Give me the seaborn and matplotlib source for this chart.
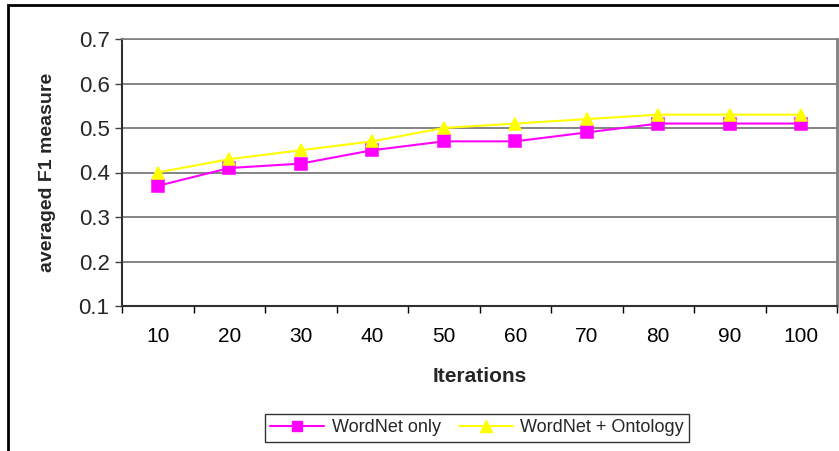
import matplotlib
matplotlib.use("Agg")
import matplotlib.pyplot as plt
import seaborn as sns
import pandas as pd
import numpy as np
from matplotlib.lines import Line2D
from matplotlib.patches import Rectangle

iterations = ["10", "20", "30", "40", "50", "60", "70", "80", "90", "100"]
wordnet_only = [0.37, 0.41, 0.42, 0.45, 0.47, 0.47, 0.49, 0.51, 0.51, 0.51]
wordnet_ontology = [0.40, 0.43, 0.45, 0.47, 0.50, 0.51, 0.52, 0.53, 0.53, 0.53]
series_names = ["WordNet only", "WordNet + Ontology"]
y_ticks = [0.1, 0.2, 0.3, 0.4, 0.5, 0.6, 0.7]

df = pd.DataFrame({
    "Iterations": iterations * 2,
    "F1": wordnet_only + wordnet_ontology,
    "Series": [series_names[0]] * len(iterations) + [series_names[1]] * len(iterations),
})

sns.set_style("white")
plt.rcParams['font.family'] = ['Liberation Sans', 'DejaVu Sans']

fig = plt.figure(figsize=(8.39, 4.51), dpi=100)
ax = fig.add_axes([122/839, 1-306/451, (837-122)/839, (306-39)/451])

colors = {"WordNet only": "#FF00FF", "WordNet + Ontology": "#FFFF00"}
sns.pointplot(data=df, x="Iterations", y="F1", hue="Series", order=iterations,
              hue_order=series_names, palette=colors, markers=["s", "^"],
              linestyles=["-", "-"], errorbar=None, ax=ax, markersize=8,
              linewidth=1.5, legend=False)

ax.set_xlim(-0.5, len(iterations) - 0.5)
ax.set_ylim(0.1, 0.7)
ax.set_yticks(y_ticks)
ax.set_yticklabels([f"{v:.1f}" for v in y_ticks])
ax.yaxis.grid(True, color="#707070", linewidth=1.2)
ax.set_axisbelow(True)

ax.set_xticks(np.arange(len(iterations)))
ax.set_xticklabels(iterations)
ax.set_xticks(np.arange(-0.5, len(iterations)), minor=True)
ax.tick_params(axis="x", which="major", length=0, labelsize=15, pad=15, colors="black")
ax.tick_params(axis="x", which="minor", length=5, width=1, direction="out", color="black", bottom=True)
ax.tick_params(axis="y", length=5, width=1, direction="out", labelsize=16, pad=4, left=True, color="#404040")

for s in ["left", "bottom"]:
    ax.spines[s].set_color("#303030")
    ax.spines[s].set_linewidth(1.5)
ax.spines["right"].set_color("#808080")
ax.spines["right"].set_linewidth(2)
ax.spines["top"].set_color("#808080")
ax.spines["top"].set_linewidth(1.2)

ax.set_xlabel("Iterations", fontsize=15, fontweight="bold", labelpad=15)
ax.set_ylabel("averaged F1 measure", fontsize=14, fontweight="bold", labelpad=16)

handles = [
    Line2D([], [], color="#FF00FF", marker="s", markersize=7, linewidth=1.5),
    Line2D([], [], color="#FFFF00", marker="^", markersize=8, linewidth=1.5),
]
leg = fig.legend(handles, series_names, loc="center", bbox_to_anchor=(477/839, 1-428/451),
                 ncol=2, fontsize=13, frameon=True, fancybox=False, edgecolor="black",
                 handlelength=3, columnspacing=1.0, borderpad=0.3, handletextpad=0.4)
leg.get_frame().set_linewidth(1)

fig.patches.append(Rectangle((8/839, -0.2), 1.2, 1.2 + (451-5)/451 - 1,
                             transform=fig.transFigure, fill=False, edgecolor="black",
                             linewidth=2, clip_on=False))

fig.savefig("out.png", dpi=100)
